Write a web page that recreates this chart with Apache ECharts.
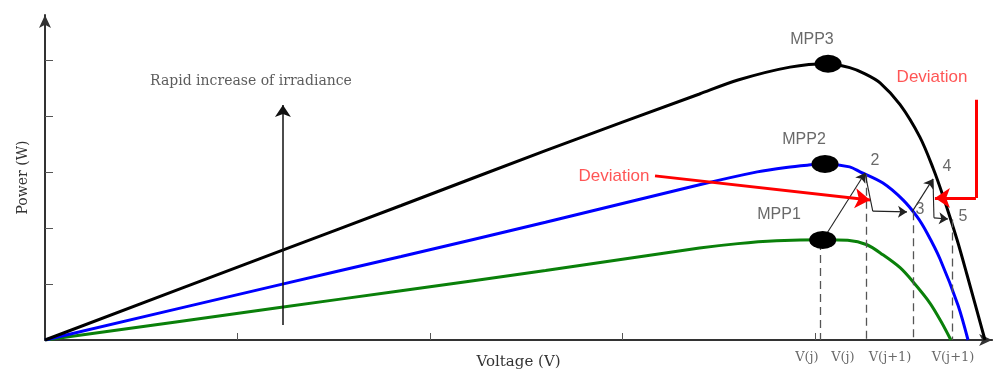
<!DOCTYPE html>
<html>
<head>
<meta charset="utf-8">
<script src="https://cdn.jsdelivr.net/npm/echarts@6/dist/echarts.min.js"></script>
<style>html,body{margin:0;padding:0;background:#fff;overflow:hidden}#c{width:998px;height:370px}</style>
</head>
<body>
<div id="c"></div>
<script>
// ---- data (voltage and power in tick units) ----
const curve3 = [[0,0],[1.2,1.56],[1.85,2.4],[2.6,3.38],[3.4,4.39],[3.6,4.64],[3.87,4.87],[4.068,4.93],[4.18,4.86],[4.26,4.75],[4.338,4.59],[4.442,4.2],[4.545,3.62],[4.613,3.07],[4.665,2.57],[4.738,1.79],[4.79,1.16],[4.883,0]];
const curve2 = [[0,0],[1.2,0.97],[1.85,1.49],[2.6,2.1],[3.4,2.77],[3.7,3.0],[3.85,3.08],[3.96,3.12],[4.052,3.143],[4.18,3.09],[4.234,3.0],[4.353,2.8],[4.457,2.5],[4.53,2.2],[4.582,1.91],[4.649,1.45],[4.743,0.62],[4.795,0]];
const curve1 = [[0,0],[1.2,0.57],[1.85,0.88],[2.6,1.24],[3.4,1.64],[3.6,1.72],[3.8,1.77],[4.04,1.79],[4.17,1.78],[4.27,1.7],[4.353,1.52],[4.442,1.29],[4.509,1.04],[4.597,0.66],[4.66,0.3],[4.706,0]];
const mppPoints = [[4.068,4.93],[4.052,3.143],[4.04,1.786]];
const trackPlain = [
  [[4.26,2.98],[4.30,2.30]],
  [[4.613,2.875],[4.618,2.18]]
];
const trackArrowed = [
  [[4.04,1.786],[4.26,2.98]],
  [[4.30,2.30],[4.478,2.286]],
  [[4.504,2.286],[4.613,2.875]],
  [[4.618,2.18],[4.691,2.16]]
];
const dashedDrops = [
  [[4.026,1.75],[4.026,0]],
  [[4.265,2.95],[4.265,0]],
  [[4.509,2.28],[4.509,0]],
  [[4.712,2.15],[4.712,0]]
];
const redPlain = [[[4.836,4.286],[4.836,2.536]]];
const redArrowed = [
  [[3.169,2.929],[4.286,2.5]],
  [[4.836,2.536],[4.623,2.536]]
];
const irradianceArrow = [[[1.236,0.268],[1.236,4.196]]];
const sansLabels = [[3.984,5.36,'MPP3'],[3.943,3.57,'MPP2'],[3.813,2.23,'MPP1'],[4.312,3.2,'2'],[4.545,2.32,'3'],[4.686,3.09,'4'],[4.769,2.2,'5']];
const redLabels = [[2.956,2.929,'Deviation'],[4.608,4.696,'Deviation']];
const serifLabels = [[1.07,4.61,'Rapid increase of irradiance']];
const voltageTickLabels = [[3.958,-0.31,'V(j)'],[4.145,-0.31,'V(j)'],[4.39,-0.31,'V(j+1)'],[4.717,-0.31,'V(j+1)']];
const xTicks = [1,2,3,4];
const yTicks = [1,2,3,4,5];

const chart = echarts.init(document.getElementById('c'), null, {renderer:'canvas'});
const SANS = 'Liberation Sans', SERIF = 'DejaVu Serif';
function curve(data,color){
  return {type:'line',data,smooth:0.3,showSymbol:false,silent:true,z:3,
    lineStyle:{color,width:3}};
}
function textSeries(data,font,size,color){
  return {type:'scatter',data,symbolSize:0,silent:true,z:10,clip:false,
    itemStyle:{color:'rgba(0,0,0,0)'},
    label:{show:true,position:'inside',formatter:p=>p.data[2],fontFamily:font,fontSize:size,color}};
}
function linesSeries(data,style,arrow,symSize){
  return {type:'lines',coordinateSystem:'cartesian2d',silent:true,z:4,
    data:data.map(c=>({coords:c})),
    symbol:arrow?['none','arrow']:['none','none'],symbolSize:symSize||0,
    lineStyle:Object.assign({opacity:1,curveness:0},style)};
}
chart.setOption({
  animation:false,
  backgroundColor:'#fff',
  grid:{left:45,right:5.9,top:15,bottom:30,outerBoundsMode:'none',containLabel:false},
  xAxis:{type:'value',min:0,max:4.92,interval:1,
    name:'Voltage (V)',nameLocation:'middle',nameGap:15,
    nameTextStyle:{fontFamily:SERIF,fontSize:15,color:'#333'},
    axisLine:{symbol:['none','arrow'],symbolSize:[9,13],lineStyle:{color:'#333',width:2}},
    axisTick:{inside:true,length:7,customValues:xTicks,lineStyle:{color:'#555',width:1}},
    axisLabel:{show:false},splitLine:{show:false}},
  yAxis:{type:'value',min:0,max:5.8,interval:1,
    name:'Power (W)',nameLocation:'middle',nameGap:15,nameRotate:90,
    nameTextStyle:{fontFamily:SERIF,fontSize:14,color:'#333'},
    axisLine:{symbol:['none','arrow'],symbolSize:[9,13],lineStyle:{color:'#333',width:2}},
    axisTick:{inside:true,length:8,customValues:yTicks,lineStyle:{color:'#555',width:1}},
    axisLabel:{show:false},splitLine:{show:false}},
  series:[
    linesSeries(dashedDrops,{color:'#555',width:1.3,type:[8,5]},false),
    curve(curve1,'#0a800a'),
    curve(curve2,'#0000ff'),
    curve(curve3,'#000000'),
    linesSeries(irradianceArrow,{color:'#111',width:1.5},true,12),
    linesSeries(trackPlain,{color:'#222',width:1.1},false),
    linesSeries(trackArrowed,{color:'#222',width:1.1},true,9),
    linesSeries(redPlain,{color:'#ff0000',width:3},false),
    linesSeries(redArrowed,{color:'#ff0000',width:3},true,15),
    {type:'scatter',data:mppPoints,symbol:'circle',symbolSize:[27,18],silent:true,z:6,
      itemStyle:{color:'#000',opacity:1}},
    textSeries(sansLabels,SANS,16,'#444'),
    textSeries(redLabels,SANS,17,'#ff2a2a'),
    textSeries(serifLabels,SERIF,14,'#333'),
    textSeries(voltageTickLabels,SERIF,13,'#444')
  ]
});
</script>
</body>
</html>
